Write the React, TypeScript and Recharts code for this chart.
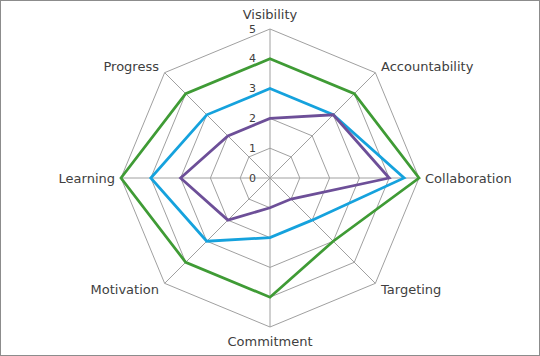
import React from "react";
import { RadarChart, Radar, PolarGrid, PolarAngleAxis, PolarRadiusAxis } from "recharts";

const categories = ["Visibility", "Accountability", "Collaboration", "Targeting", "Commitment", "Motivation", "Learning", "Progress"];
const greenValues = [4, 4, 5, 3, 4, 4, 5, 4];
const blueValues = [3, 3, 4.5, 2, 2, 3, 4, 3];
const purpleValues = [2, 3, 4, 1, 1, 2, 3, 2];
const radiusTicks = [0, 1, 2, 3, 4, 5];

const data = categories.map((c, i) => ({
  name: c,
  green: greenValues[i],
  blue: blueValues[i],
  purple: purpleValues[i],
}));

const CX = 270;
const CY = 178;
const TEXT = "#404040";
const FONT = "'DejaVu Sans', sans-serif";

const AngleTick = (props: any) => {
  const { x, y, payload, textAnchor } = props;
  let dy = 0;
  if (textAnchor === "middle") {
    dy = y < CY ? -7 : 6;
  }
  let dx = 0;
  if (Math.abs(y - CY) < 1) dx = x > CX ? -2 : 2;
  return (
    <text
      x={x + dx}
      y={y + dy}
      textAnchor={textAnchor}
      dominantBaseline="central"
      fill={TEXT}
      fontSize={13}
      fontFamily={FONT}
    >
      {payload.value}
    </text>
  );
};

const RadiusTick = (props: any) => {
  const { x, y, payload } = props;
  return (
    <text x={x - 14} y={y} textAnchor="end" dominantBaseline="central" fill={TEXT} fontSize={11} fontFamily={FONT}>
      {payload.value}
    </text>
  );
};

export default function App() {
  return (
    <div style={{ position: "absolute", left: 0, top: 0, width: 540, height: 356 }}>
      <div
        style={{
          position: "absolute",
          left: 0,
          top: 0,
          width: 540,
          height: 356,
          border: "1px solid #8c8c8c",
          boxSizing: "border-box",
          background: "#fff",
        }}
      />
      <div style={{ position: "absolute", left: 0, top: 0 }}>
        <RadarChart width={540} height={356} data={data} cx={CX} cy={CY} outerRadius={149} margin={{ top: 0, right: 0, bottom: 0, left: 0 }}>
          <PolarGrid gridType="polygon" stroke="#a0a0a0" strokeWidth={1} />
          <PolarAngleAxis dataKey="name" tick={<AngleTick />} tickLine={false} axisLine={false} />
          <PolarRadiusAxis
            angle={90}
            domain={[0, 5]}
            ticks={radiusTicks as any}
            tickCount={6}
            tick={<RadiusTick />}
            axisLine={false}
            tickLine={false}
          />
          <Radar dataKey="green" stroke="#3F9B35" strokeWidth={2.75} fill="none" fillOpacity={0} isAnimationActive={false} dot={false} />
          <Radar dataKey="blue" stroke="#15A2DD" strokeWidth={2.75} fill="none" fillOpacity={0} isAnimationActive={false} dot={false} />
          <Radar dataKey="purple" stroke="#6D4F98" strokeWidth={2.75} fill="none" fillOpacity={0} isAnimationActive={false} dot={false} />
        </RadarChart>
      </div>
    </div>
  );
}
